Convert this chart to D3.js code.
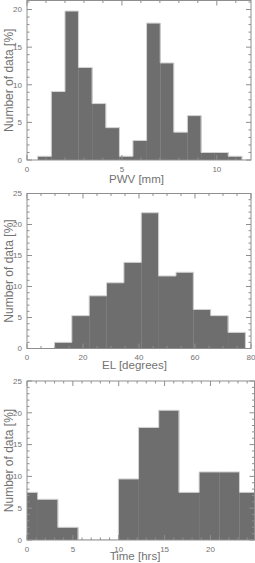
<!DOCTYPE html>
<html>
<head>
<meta charset="utf-8">
<script src="https://cdn.jsdelivr.net/npm/d3@7"></script>
<style>
  body { margin: 0; background: #fff; }
  text { font-family: "Liberation Sans", "DejaVu Sans", sans-serif; fill: #727272; }
</style>
</head>
<body>
<svg id="chart" width="255" height="563"></svg>
<script>
// histogram bin edges and percentages
var pwvEdges = [0.56, 1.28, 2.0, 2.71, 3.43, 4.15, 4.87, 5.58, 6.3, 7.02, 7.73, 8.45, 9.17, 9.88, 10.6, 11.32];
var pwvPct   = [0.5, 9.1, 19.8, 12.3, 7.5, 4.3, 0.5, 2.6, 18.2, 12.9, 3.7, 5.9, 1.0, 1.0, 0.5];

var elEdges = [9.8, 16.0, 22.2, 28.4, 34.6, 40.8, 47.0, 53.2, 59.4, 65.6, 71.8, 78.0];
var elPct   = [1.0, 5.3, 8.5, 10.6, 13.9, 21.9, 11.7, 12.3, 6.3, 5.3, 2.6];

var timeEdges = [-1.04, 1.16, 3.36, 5.56, 7.76, 9.96, 12.16, 14.36, 16.56, 18.76, 20.96, 23.16, 25.36];
var timePct   = [7.5, 6.4, 2.0, 0, 0, 9.6, 17.7, 20.4, 7.5, 10.7, 10.7, 7.5];

// tick labels per panel
var pwvTicks = [0, 5, 10], elTicks = [0, 20, 40, 60, 80], timeTicks = [0, 5, 10, 15, 20];
var yTicks = [0, 5, 10, 15, 20, 25];

var svg = d3.select("#chart");

var panels = [
  {edges: pwvEdges, vals: pwvPct, xdom: [0, 11.8], ydom: [0, 21.2], major: pwvTicks, minorStep: 1,
   left: 27, right: 251, top: 0.5, bottom: 160, title: "PWV [mm]", tx: 136.5, ty: 23, id: "c1"},
  {edges: elEdges, vals: elPct, xdom: [0, 80], ydom: [0, 25], major: elTicks, minorStep: 5,
   left: 27, right: 251, top: 193.5, bottom: 348.5, title: "EL [degrees]", tx: 134.5, ty: 20, id: "c2"},
  {edges: timeEdges, vals: timePct, xdom: [0, 24.8], ydom: [0, 25], major: timeTicks, minorStep: 1,
   left: 27, right: 254.5, top: 381, bottom: 540, title: "Time [hrs]", tx: 135, ty: 19.5, id: "c3"}
];

panels.forEach(function(p) {
  var x = d3.scaleLinear().domain(p.xdom).range([p.left, p.right]);
  var y = d3.scaleLinear().domain(p.ydom).range([p.bottom, p.top]);
  var g = svg.append("g");

  g.append("clipPath").attr("id", p.id)
    .append("rect")
      .attr("x", p.left).attr("y", p.top)
      .attr("width", p.right - p.left).attr("height", p.bottom - p.top);

  var bins = p.vals.map(function(v, i) { return {x0: p.edges[i], x1: p.edges[i + 1], v: v}; });

  var plot = g.append("g").attr("clip-path", "url(#" + p.id + ")");

  plot.selectAll("rect.bar")
    .data(bins)
    .enter().append("rect")
      .attr("class", "bar")
      .attr("x", function(d) { return x(d.x0); })
      .attr("width", function(d) { return x(d.x1) - x(d.x0) + 0.3; })
      .attr("y", function(d) { return y(d.v); })
      .attr("height", function(d) { return y(0) - y(d.v); })
      .attr("fill", "#6e6e6e");

  // step outline on top of the filled bars
  var pts = [[x(bins[0].x0), y(0)]];
  bins.forEach(function(d) {
    pts.push([x(d.x0), y(d.v)]);
    pts.push([x(d.x1), y(d.v)]);
  });
  pts.push([x(bins[bins.length - 1].x1), y(0)]);
  plot.append("path")
    .attr("d", d3.line()(pts))
    .attr("fill", "none")
    .attr("stroke", "#d4d4d4")
    .attr("stroke-width", 1);

  // frame
  g.append("rect")
    .attr("x", p.left).attr("y", p.top)
    .attr("width", p.right - p.left).attr("height", p.bottom - p.top)
    .attr("fill", "none").attr("stroke", "#8f8f8f").attr("stroke-width", 1);

  // inward ticks on all four sides
  var xMinor = d3.range(p.xdom[0], p.xdom[1] + 1e-6, p.minorStep);
  var yMinor = d3.range(p.ydom[0], p.ydom[1] + 1e-6, 1);
  var tk = g.append("g").attr("stroke", "#8f8f8f").attr("stroke-width", 1);

  xMinor.forEach(function(v) {
    var len = p.major.indexOf(v) >= 0 ? 5 : 2.5;
    tk.append("line").attr("x1", x(v)).attr("x2", x(v)).attr("y1", p.bottom).attr("y2", p.bottom - len);
    tk.append("line").attr("x1", x(v)).attr("x2", x(v)).attr("y1", p.top).attr("y2", p.top + len);
  });
  yMinor.forEach(function(v) {
    var len = v % 5 === 0 ? 5 : 2.5;
    tk.append("line").attr("y1", y(v)).attr("y2", y(v)).attr("x1", p.left).attr("x2", p.left + len);
    tk.append("line").attr("y1", y(v)).attr("y2", y(v)).attr("x1", p.right).attr("x2", p.right - len);
  });

  // tick labels
  g.selectAll("text.xl")
    .data(p.major)
    .enter().append("text")
      .attr("x", function(d) { return x(d); })
      .attr("y", p.bottom + 11.5)
      .attr("text-anchor", "middle")
      .attr("font-size", 8)
      .text(function(d) { return d; });

  g.selectAll("text.yl")
    .data(yTicks.filter(function(d) { return d <= p.ydom[1]; }))
    .enter().append("text")
      .attr("x", p.left - 5)
      .attr("y", function(d) { return y(d); })
      .attr("dy", "0.35em")
      .attr("text-anchor", "end")
      .attr("font-size", 8)
      .text(function(d) { return d; });

  // axis titles
  g.append("text")
    .attr("x", p.tx)
    .attr("y", p.bottom + p.ty)
    .attr("text-anchor", "middle")
    .attr("font-size", 11.5)
    .text(p.title);

  g.append("text")
    .attr("transform", "translate(12.5," + ((p.top + p.bottom) / 2) + ") rotate(-90)")
    .attr("text-anchor", "middle")
    .attr("font-size", 12)
    .text("Number of data [%]");
});
</script>
</body>
</html>
